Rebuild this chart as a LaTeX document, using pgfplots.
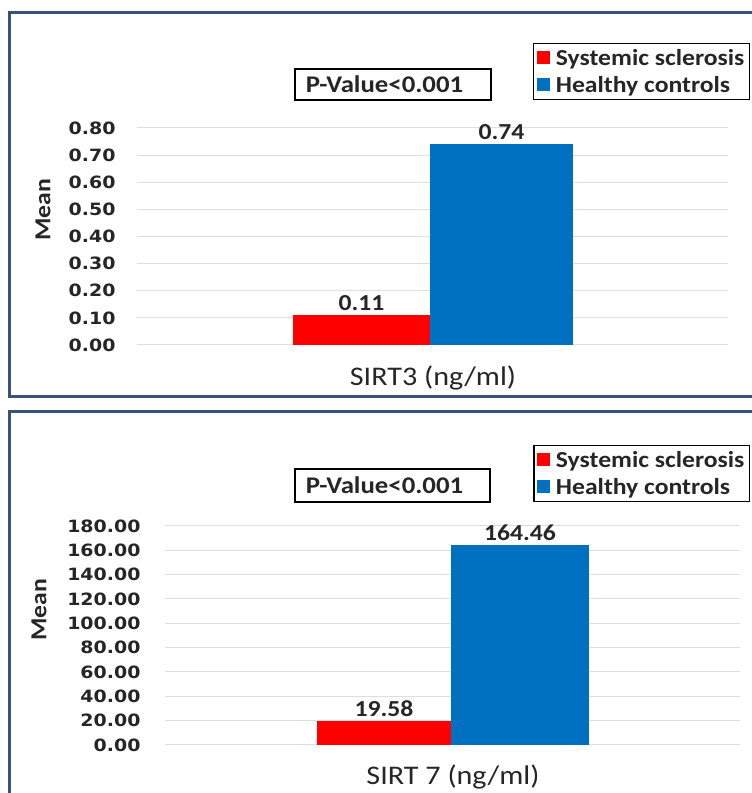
\documentclass[border=0pt]{standalone}
\usepackage{fontspec}
\setmainfont{Carlito}[FakeStretch=1.12]
\newfontfamily\tickfont{DejaVu Sans}[FakeStretch=1.12]
\usepackage{pgfplots}
\pgfplotsset{compat=1.18}
\definecolor{ssred}{RGB}{255,0,0}
\definecolor{hcblue}{RGB}{0,112,192}
\definecolor{framec}{RGB}{58,82,120}
\definecolor{gridc}{RGB}{222,222,222}
\pgfplotsset{
  panel/.style={
    scale only axis, ybar=0pt, xtick=\empty, ymin=0, enlargelimits=false,
    axis line style={draw=none}, major tick length=0pt,
    ymajorgrids, grid style={gridc, line width=1bp},
    /pgf/number format/assume math mode=true,
    yticklabel style={font=\tickfont\bfseries\fontsize{17}{17}\selectfont, text=black!85,
      /pgf/number format/fixed, /pgf/number format/fixed zerofill, /pgf/number format/precision=2},
    nodes near coords,
    nodes near coords style={font=\bfseries\fontsize{23}{23}\selectfont, yshift=1bp, text=black!85,
      /pgf/number format/fixed, /pgf/number format/fixed zerofill, /pgf/number format/precision=2},
    legend style={draw=black, line width=1.2bp, anchor=north east,
      font=\bfseries\fontsize{23}{23}\selectfont, text=black!85, legend cell align=left,
      inner xsep=3bp, inner ysep=4bp, row sep=5bp,
      /tikz/every odd column/.append style={column sep=4bp}},
    legend image code/.code={\path[#1,draw=none] (0bp,-6bp) rectangle (13bp,7bp);},
    clip=false,
  }
}
\begin{document}
\begin{tikzpicture}[x=1bp,y=1bp]
\useasboundingbox (0,0) rectangle (752,793);
\clip (0,0) rectangle (752,793);
\fill[white] (0,0) rectangle (752,793);
% frames
\draw[framec, line width=3bp] (9,780) rectangle (800,396);
\draw[framec, line width=3bp] (9,381) rectangle (800,-30);

% ---------- top panel: SIRT3 ----------
\begin{axis}[panel, at={(137bp,448bp)}, anchor=south west,
  width=591bp, height=217bp, xmin=-293, xmax=298, ymax=0.8,
  ytick={0,0.1,...,0.8}, yticklabel style={xshift=-18bp},
  legend style={at={(1.0372,1.3917)}}]
\addplot[fill=ssred, draw=none, bar width=137bp, bar shift=-68.5bp] coordinates {(0,0.11)};
\addplot[fill=hcblue, draw=none, bar width=143bp, bar shift=71.5bp] coordinates {(0,0.74)};
\legend{Systemic sclerosis, Healthy controls}
\end{axis}
\draw[black, line width=1.2bp] (295,724) rectangle (491,693);
\node[font=\bfseries\fontsize{24}{24}\selectfont, text=black!85] at (384.5,708.5) {P-Value<0.001};
\node[rotate=90, font=\bfseries\fontsize{23}{23}\selectfont, text=black!85] at (43,583) {Mean};
\node[font=\fontsize{27}{27}\selectfont, text=black!85] at (433,415) {SIRT3 (ng/ml)};

% ---------- bottom panel: SIRT 7 ----------
\begin{axis}[panel, at={(165bp,48bp)}, anchor=south west,
  width=575bp, height=219bp, xmin=-286, xmax=289, ymax=180,
  ytick={0,20,...,180}, yticklabel style={xshift=-21bp},
  legend style={at={(1.0174,1.3699)}}]
\addplot[fill=ssred, draw=none, bar width=134bp, bar shift=-67bp] coordinates {(0,19.58)};
\addplot[fill=hcblue, draw=none, bar width=138bp, bar shift=69bp] coordinates {(0,164.46)};
\legend{Systemic sclerosis, Healthy controls}
\end{axis}
\draw[black, line width=1.2bp] (295,324) rectangle (490,291);
\node[font=\bfseries\fontsize{24}{24}\selectfont, text=black!85] at (384.5,307.5) {P-Value<0.001};
\node[rotate=90, font=\bfseries\fontsize{23}{23}\selectfont, text=black!85] at (39,183) {Mean};
\node[font=\fontsize{27}{27}\selectfont, text=black!85] at (453,16) {SIRT 7 (ng/ml)};
\end{tikzpicture}
\end{document}
